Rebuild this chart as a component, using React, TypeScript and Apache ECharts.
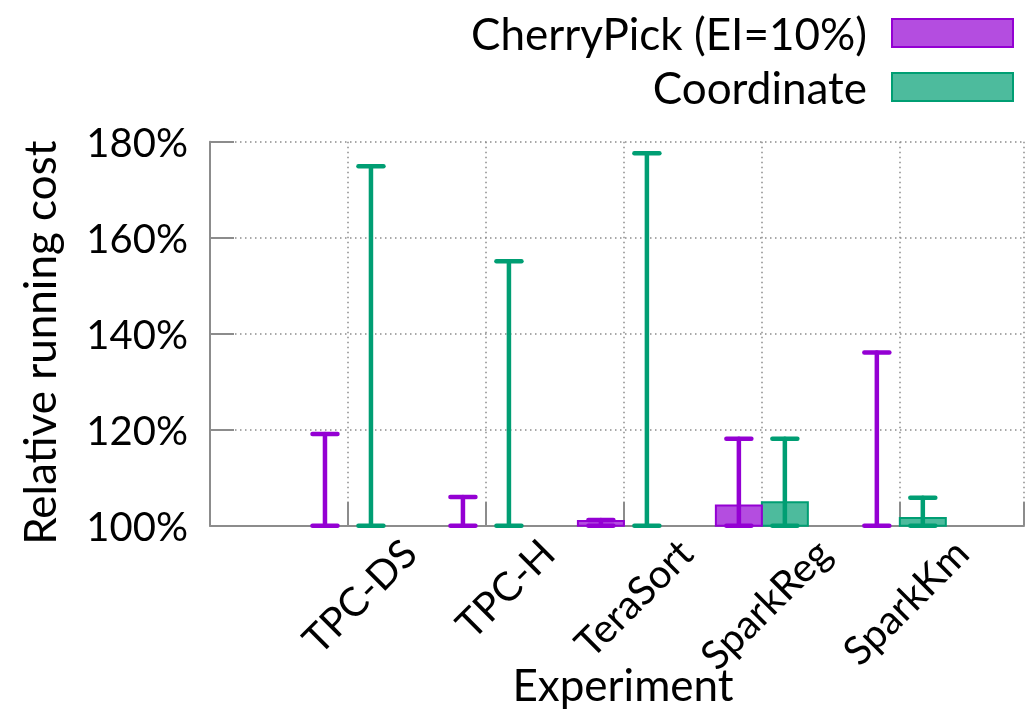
import React, { useEffect, useRef } from "react";
import * as echarts from "echarts";

const categories = ["TPC-DS", "TPC-H", "TeraSort", "SparkReg", "SparkKm"];
const cherryMean = [100, 100, 101.0, 104.2, 100];
const cherryLow = [100, 100, 100, 100, 100];
const cherryHigh = [119.1, 106.0, 101.2, 118.1, 136.1];
const coordMean = [100, 100, 100, 104.9, 101.6];
const coordLow = [100, 100, 100, 100, 100];
const coordHigh = [174.9, 155.1, 177.6, 118.1, 105.8];
const yTicks = [100, 120, 140, 160, 180];

const FONT = "Lato, 'Open Sans', sans-serif";
const GRAY = "#8c8c8c";
const PURPLE = "#9400d3";
const PURPLE_FILL = "#b44de0";
const GREEN = "#009e73";
const GREEN_FILL = "#4dbb9d";

function makeRender(offset: number, stroke: string, fill: string) {
  return (params: any, api: any) => {
    const idx = api.value(0);
    const mean = api.value(1);
    const low = api.value(2);
    const high = api.value(3);
    const xc = idx + offset;
    const pMean = api.coord([xc, mean]);
    const pBase = api.coord([xc, 100]);
    const pLow = api.coord([xc, low]);
    const pHigh = api.coord([xc, high]);
    const w = api.size([1 / 3, 0])[0];
    const children: any[] = [];
    if (pBase[1] - pMean[1] > 0.5) {
      children.push({
        type: "rect",
        shape: { x: pMean[0] - w / 2, y: pMean[1], width: w, height: pBase[1] - pMean[1] },
        style: { fill, stroke, lineWidth: 2 },
      });
    }
    const cap = 12.5;
    const lineStyle = { stroke, lineWidth: 4.5, lineCap: "round" };
    children.push({
      type: "line",
      shape: { x1: pLow[0], y1: pLow[1], x2: pHigh[0], y2: pHigh[1] },
      style: lineStyle,
    });
    children.push({
      type: "line",
      shape: { x1: pLow[0] - cap, y1: pLow[1], x2: pLow[0] + cap, y2: pLow[1] },
      style: lineStyle,
    });
    children.push({
      type: "line",
      shape: { x1: pHigh[0] - cap, y1: pHigh[1], x2: pHigh[0] + cap, y2: pHigh[1] },
      style: lineStyle,
    });
    return { type: "group", children };
  };
}

export default function App() {
  const ref = useRef<HTMLDivElement>(null);
  useEffect(() => {
    document.body.style.margin = "0";
    const chart = echarts.init(ref.current!, undefined, { renderer: "svg" });
    const cherryData = categories.map((_, i) => [i + 1, cherryMean[i], cherryLow[i], cherryHigh[i]]);
    const coordData = categories.map((_, i) => [i + 1, coordMean[i], coordLow[i], coordHigh[i]]);
    const gridTop = 141.7;
    const gridHeight = 384;
    chart.setOption({
      animation: false,
      textStyle: { fontFamily: FONT, color: "#000" },
      legend: {
        orient: "vertical",
        right: 12,
        top: 10,
        padding: 0,
        itemWidth: 121,
        itemHeight: 28,
        itemGap: 8,
        align: "right",
        selectedMode: false,
        textStyle: { fontSize: 44, lineHeight: 46, fontFamily: FONT, color: "#000", padding: [0, 20, 0, 0] },
        data: [
          { name: "CherryPick (EI=10%)", icon: "rect", itemStyle: { color: PURPLE_FILL, borderColor: PURPLE, borderWidth: 2 } },
          { name: "Coordinate", icon: "rect", itemStyle: { color: GREEN_FILL, borderColor: GREEN, borderWidth: 2 } },
        ],
      },
      grid: [
        { left: 210, top: gridTop, width: 814, height: gridHeight, outerBoundsMode: "none", containLabel: false },
        { left: 340, top: gridTop, width: 690, height: gridHeight, outerBoundsMode: "none", containLabel: false },
      ],
      xAxis: [
        {
          type: "value",
          gridIndex: 0,
          min: 0,
          max: 5.9,
          interval: 1,
          name: "Experiment",
          nameLocation: "middle",
          nameGap: 136,
          nameTextStyle: { fontSize: 44, fontFamily: FONT, color: "#000", padding: [0, 0, 0, 12] },
          axisLine: { show: true, lineStyle: { color: GRAY, width: 2 } },
          axisTick: { show: true, inside: true, length: 24, lineStyle: { color: GRAY, width: 2 } },
          axisLabel: { show: false },
          splitLine: { show: true, lineStyle: { color: GRAY, width: 1.5, type: [1.5, 3.5] } },
        },
        {
          type: "category",
          gridIndex: 1,
          data: categories,
          boundaryGap: true,
          axisLine: { show: false },
          axisTick: { show: false },
          splitLine: { show: false },
          axisLabel: { show: true, rotate: 45, margin: 20, fontSize: 40, fontFamily: FONT, color: "#000", interval: 0 },
        },
      ],
      yAxis: [
        {
          type: "value",
          gridIndex: 0,
          min: 100,
          max: 180,
          interval: 20,
          name: "Relative running cost",
          nameLocation: "middle",
          nameGap: 149,
          nameTextStyle: { fontSize: 44, fontFamily: FONT, color: "#000", padding: [0, 18, 0, 0] },
          axisLine: { show: true, lineStyle: { color: GRAY, width: 2 } },
          axisTick: { show: true, inside: true, length: 24, lineStyle: { color: GRAY, width: 2 } },
          axisLabel: {
            fontSize: 40,
            fontFamily: FONT,
            color: "#000",
            margin: 22,
            formatter: (v: number) => (yTicks.includes(v) ? `${v}%` : ""),
          },
          splitLine: { show: true, lineStyle: { color: GRAY, width: 1.5, type: [1.5, 3.5] } },
        },
        {
          type: "value",
          gridIndex: 1,
          min: 100,
          max: 180,
          show: false,
        },
      ],
      series: [
        {
          name: "CherryPick (EI=10%)",
          type: "custom",
          xAxisIndex: 0,
          yAxisIndex: 0,
          renderItem: makeRender(-1 / 6, PURPLE, PURPLE_FILL),
          itemStyle: { color: PURPLE_FILL },
          data: cherryData,
          encode: { x: 0, y: [1, 2, 3] },
          clip: false,
          z: 3,
        },
        {
          name: "Coordinate",
          type: "custom",
          xAxisIndex: 0,
          yAxisIndex: 0,
          renderItem: makeRender(1 / 6, GREEN, GREEN_FILL),
          itemStyle: { color: GREEN_FILL },
          data: coordData,
          encode: { x: 0, y: [1, 2, 3] },
          clip: false,
          z: 2,
        },
      ],
    });
    return () => chart.dispose();
  }, []);
  return <div ref={ref} style={{ width: 1026, height: 710, position: "fixed", left: 0, top: 0 }} />;
}
